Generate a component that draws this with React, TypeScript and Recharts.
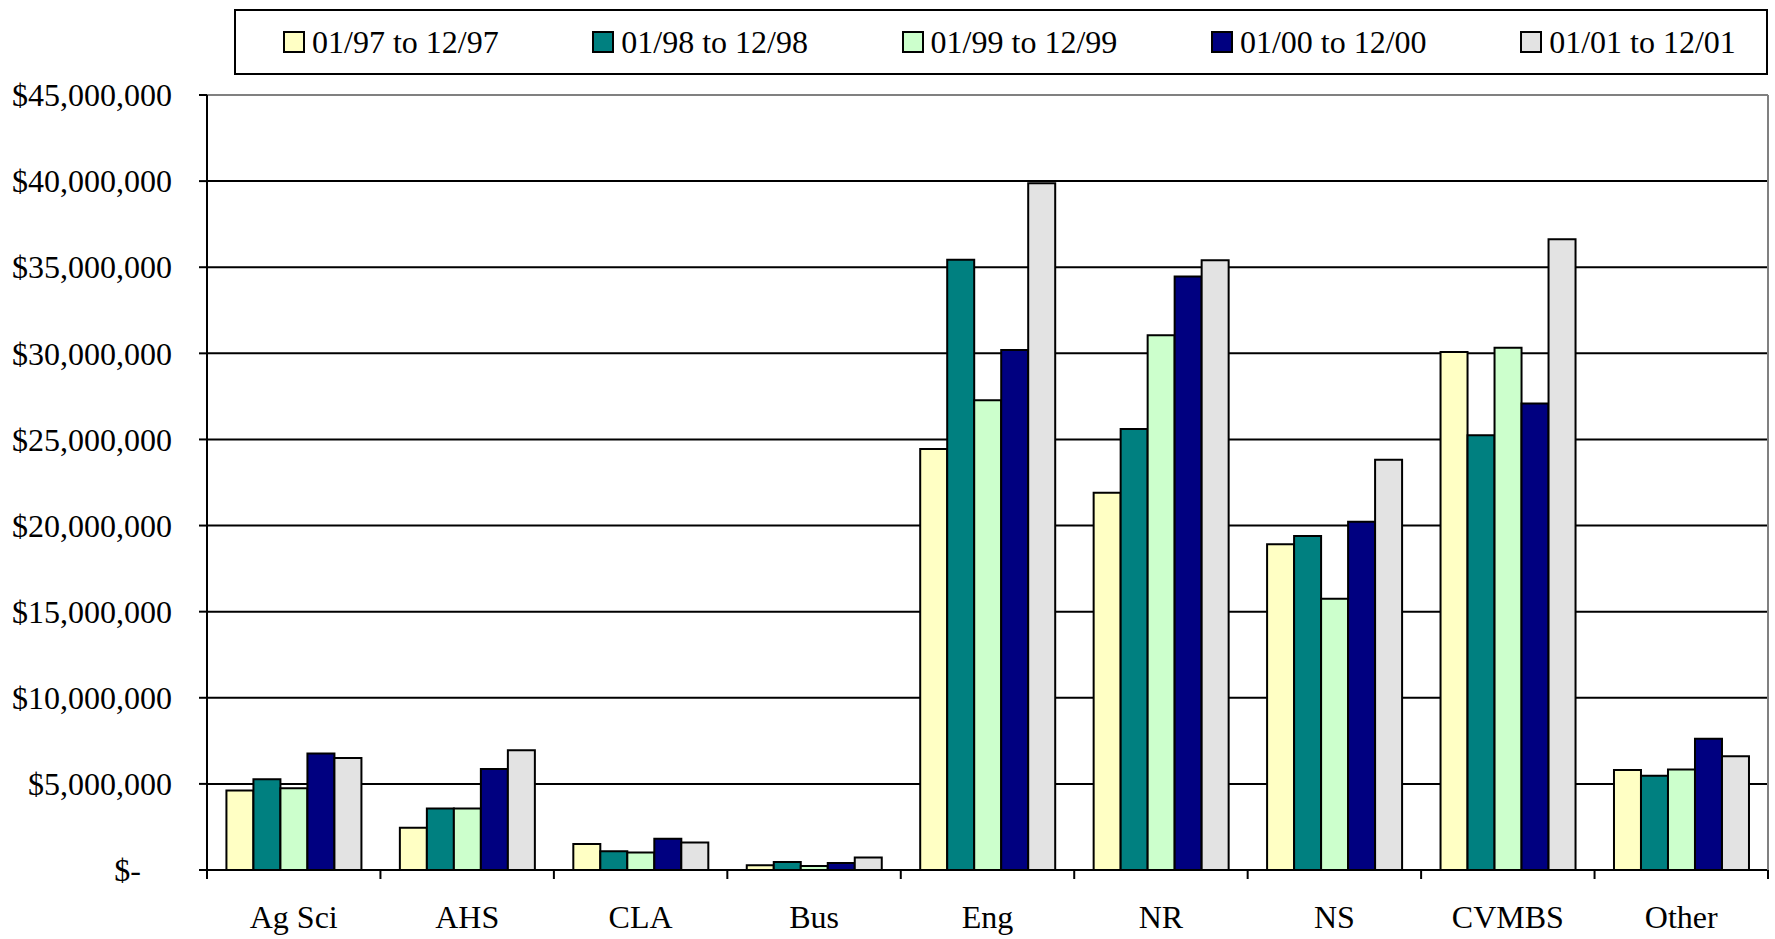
import React from 'react';
import { BarChart, Bar, XAxis, YAxis, CartesianGrid, Legend, ReferenceLine } from 'recharts';

const CHART_W = 1775;
const CHART_H = 939;
const Y_AXIS_W = 207;
const RIGHT_W = 7;
const X_AXIS_H = 69;
const FONT = '"Liberation Serif", "Times New Roman", serif';

const categories = ['Ag Sci', 'AHS', 'CLA', 'Bus', 'Eng', 'NR', 'NS', 'CVMBS', 'Other'];
const y97 = [4610000, 2460000, 1510000, 270000, 24450000, 21910000, 18920000, 30080000, 5800000];
const y98 = [5270000, 3570000, 1090000, 470000, 35440000, 25610000, 19390000, 25240000, 5470000];
const y99 = [4750000, 3570000, 1010000, 230000, 27280000, 31050000, 15750000, 30330000, 5840000];
const y00 = [6760000, 5870000, 1820000, 410000, 30190000, 34460000, 20220000, 27080000, 7620000];
const y01 = [6510000, 6960000, 1590000, 720000, 39870000, 35400000, 23820000, 36630000, 6600000];
const yTicks = [0, 5000000, 10000000, 15000000, 20000000, 25000000, 30000000, 35000000, 40000000, 45000000];

const series = [
  { key: 'p97', name: '01/97 to 12/97', values: y97, color: '#FFFFC4' },
  { key: 'p98', name: '01/98 to 12/98', values: y98, color: '#008080' },
  { key: 'p99', name: '01/99 to 12/99', values: y99, color: '#CCFFCC' },
  { key: 'p00', name: '01/00 to 12/00', values: y00, color: '#000080' },
  { key: 'p01', name: '01/01 to 12/01', values: y01, color: '#E3E3E3' },
];

const data = categories.map((name, i) => {
  const row: Record<string, string | number> = { name };
  series.forEach((s) => {
    row[s.key] = s.values[i];
  });
  return row;
});

const band = (CHART_W - Y_AXIS_W - RIGHT_W) / categories.length;

const XTick = (props: any) => {
  const { x, y, payload, index } = props;
  return (
    <g>
      <line x1={x - band / 2} x2={x - band / 2} y1={y} y2={y + 9} stroke="#000" strokeWidth={2} />
      {index === categories.length - 1 && (
        <line x1={x + band / 2} x2={x + band / 2} y1={y} y2={y + 9} stroke="#000" strokeWidth={2} />
      )}
      <text x={x} y={y + 58} textAnchor="middle" fontSize={32} fontFamily={FONT} fill="#000">
        {payload.value}
      </text>
    </g>
  );
};

const YTick = (props: any) => {
  const { x, y, payload } = props;
  const v = payload.value as number;
  const label = v === 0 ? '$-' : '$' + v.toLocaleString('en-US');
  return (
    <text x={v === 0 ? x - 31 : x} y={y} dy="0.35em" textAnchor="end" fontSize={32} fontFamily={FONT} fill="#000">
      {label}
    </text>
  );
};

// legend drawn in series order (recharts sorts its own payload)
const LegendBox = () => (
  <div
    style={{
      boxSizing: 'border-box',
      width: 1534,
      height: 66,
      border: '2px solid #000',
      display: 'flex',
      alignItems: 'center',
      paddingLeft: 47,
      background: '#fff',
      fontFamily: FONT,
      overflow: 'hidden',
    }}
  >
    {series.map((s) => (
      <div key={s.key} style={{ width: 309.3, flexShrink: 0, display: 'flex', alignItems: 'center' }}>
        <span
          style={{
            boxSizing: 'border-box',
            width: 22,
            height: 22,
            flexShrink: 0,
            border: '2px solid #000',
            background: s.color,
            marginRight: 7,
          }}
        />
        <span style={{ fontFamily: FONT, fontSize: 32, lineHeight: 1, color: '#000', whiteSpace: 'nowrap' }}>
          {s.name}
        </span>
      </div>
    ))}
  </div>
);

export default function App() {
  return (
    <div style={{ position: 'absolute', left: 0, top: 0, background: '#fff' }}>
      <BarChart
        width={CHART_W}
        height={CHART_H}
        data={data}
        margin={{ top: 95, right: 0, left: 0, bottom: 0 }}
        barCategoryGap="11.2%"
        barGap={0}
      >
        <CartesianGrid vertical={false} stroke="#000" strokeWidth={2} />
        <XAxis
          dataKey="name"
          height={X_AXIS_H}
          interval={0}
          tickSize={0}
          tickMargin={0}
          tickLine={false}
          axisLine={{ stroke: '#000', strokeWidth: 2 }}
          tick={<XTick />}
        />
        <YAxis
          width={Y_AXIS_W}
          domain={[0, 45000000]}
          ticks={yTicks}
          interval={0}
          tickSize={8}
          tickMargin={27}
          tickLine={{ stroke: '#000', strokeWidth: 2 }}
          axisLine={{ stroke: '#000', strokeWidth: 2 }}
          tick={<YTick />}
        />
        <YAxis
          yAxisId="right"
          orientation="right"
          width={RIGHT_W}
          domain={[0, 45000000]}
          tick={false}
          tickLine={false}
          axisLine={{ stroke: '#808080', strokeWidth: 2 }}
        />
        <ReferenceLine y={45000000} stroke="#808080" strokeWidth={2} />
        <Legend
          layout="horizontal"
          verticalAlign="middle"
          align="center"
          content={<LegendBox />}
          wrapperStyle={{ top: 9, left: 234, width: 1534, height: 66 }}
        />
        {series.map((s) => (
          <Bar
            key={s.key}
            dataKey={s.key}
            name={s.name}
            fill={s.color}
            stroke="#000"
            strokeWidth={2}
            isAnimationActive={false}
          />
        ))}
      </BarChart>
    </div>
  );
}
